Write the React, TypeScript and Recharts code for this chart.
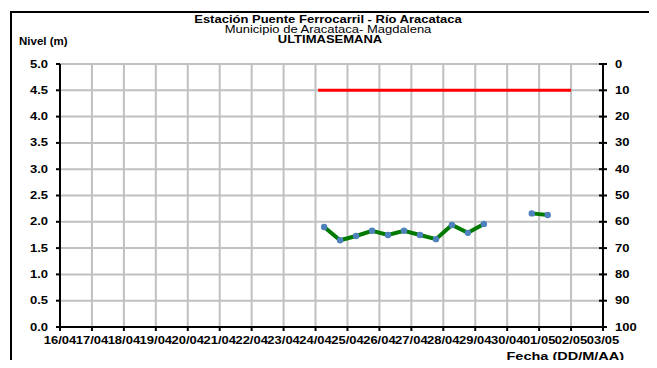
import React from 'react';
import { LineChart, Line, XAxis, YAxis, CartesianGrid } from 'recharts';

// eje X: un tick por día
const dayLabels = [
  '16/04', '17/04', '18/04', '19/04', '20/04', '21/04', '22/04', '23/04', '24/04',
  '25/04', '26/04', '27/04', '28/04', '29/04', '30/04', '01/05', '02/05', '03/05',
];
const dayTicks = [0, 1, 2, 3, 4, 5, 6, 7, 8, 9, 10, 11, 12, 13, 14, 15, 16, 17];

// nivel observado (m), en días desde 16/04
const nivelTimes = [8.27, 8.77, 9.27, 9.77, 10.27, 10.77, 11.27, 11.77, 12.27, 12.77, 13.27, 13.77, 14.27, 14.77, 15.27];
const nivelValues = [1.9, 1.65, 1.73, 1.83, 1.75, 1.83, 1.75, 1.67, 1.94, 1.79, 1.96, null, null, 2.16, 2.13];

// umbral de alerta
const alertTimes = [8.08, 16];
const alertValues = [4.5, 4.5];

// precipitación: sin registros en la semana
const lluviaTimes = [8.27];
const lluviaValues = [null];

const nivelTicks = [0, 0.5, 1, 1.5, 2, 2.5, 3, 3.5, 4, 4.5, 5];
const lluviaTicks = [0, 10, 20, 30, 40, 50, 60, 70, 80, 90, 100];

const nivelData = nivelTimes.map((t, i) => ({ t, nivel: nivelValues[i] }));
const alertData = alertTimes.map((t, i) => ({ t, alerta: alertValues[i] }));
const lluviaData = lluviaTimes.map((t, i) => ({ t, lluvia: lluviaValues[i] }));

const FONT = 'Arial, "Liberation Sans", sans-serif';
const SX = 1.3; // el texto original viene estirado a lo ancho

const txt = { fontFamily: FONT, fontSize: 10, fontWeight: 700, fill: '#000' };

const XTick = (props: any) => {
  const { x, y, payload } = props;
  return (
    <g transform={`translate(${x},${y})`}>
      <text transform={`scale(${SX},1)`} textAnchor="middle" dy="0.71em" style={txt}>
        {dayLabels[payload.value]}
      </text>
    </g>
  );
};

const LeftTick = (props: any) => {
  const { x, y, payload } = props;
  return (
    <g transform={`translate(${x},${y})`}>
      <text transform={`scale(${SX},1)`} textAnchor="end" dy="0.355em" style={txt}>
        {Number(payload.value).toFixed(1)}
      </text>
    </g>
  );
};

const RightTick = (props: any) => {
  const { x, y, payload } = props;
  return (
    <g transform={`translate(${x},${y})`}>
      <line x1={-16} x2={-12} y1={0} y2={0} stroke="#000" strokeWidth={2} />
      <text transform={`scale(${SX},1)`} textAnchor="start" dy="0.355em" style={txt}>
        {payload.value}
      </text>
    </g>
  );
};

const hText = (extra: React.CSSProperties): React.CSSProperties => ({
  position: 'absolute',
  whiteSpace: 'nowrap',
  fontSize: 10,
  lineHeight: '10px',
  color: '#000',
  ...extra,
});

export default function App() {
  return (
    <div style={{ position: 'relative', width: 657, height: 368, margin: -8, overflow: 'hidden', background: '#fff', fontFamily: FONT }}>
      {/* marco */}
      <div style={{ position: 'absolute', left: 10, top: 11, width: 700, height: 400, borderLeft: '2px solid #000', borderTop: '2px solid #000' }} />

      {/* títulos */}
      <div style={hText({ left: 328, top: 15, fontWeight: 700, transform: `translateX(-50%) scaleX(${SX})` })}>
        Estación Puente Ferrocarril - Río Aracataca
      </div>
      <div style={hText({ left: 328, top: 25, transform: `translateX(-50%) scaleX(${SX})` })}>
        Municipio de Aracataca- Magdalena
      </div>
      <div style={hText({ left: 330, top: 35, fontWeight: 700, transform: `translateX(-50%) scaleX(${SX})` })}>
        ULTIMASEMANA
      </div>
      <div style={hText({ left: 19, top: 37, fontWeight: 700, transformOrigin: 'left', transform: 'scaleX(1.15)' })}>
        Nivel (m)
      </div>
      <div style={hText({ right: 33, top: 352, fontWeight: 700, transformOrigin: 'right', transform: 'scaleX(1.45)' })}>
        Fecha (DD/M/AA)
      </div>

      <div style={{ position: 'absolute', left: 0, top: 0 }}>
        <LineChart width={657} height={368} margin={{ top: 64, right: 0, bottom: 21, left: 0 }}>
          <CartesianGrid
            yAxisId="left"
            stroke="#c0c0c0"
            strokeWidth={2}
            verticalValues={dayTicks}
            horizontalValues={nivelTicks}
          />
          <XAxis
            dataKey="t"
            type="number"
            domain={[0, 17]}
            ticks={dayTicks}
            interval={0}
            stroke="#000"
            strokeWidth={2}
            tickSize={4}
            tickMargin={6}
            tick={<XTick />}
            height={20}
            allowDuplicatedCategory={false}
          />
          <YAxis
            yAxisId="left"
            type="number"
            domain={[0, 5]}
            ticks={nivelTicks}
            interval={0}
            stroke="#000"
            strokeWidth={2}
            tickSize={4}
            tickMargin={8}
            tick={<LeftTick />}
            width={60}
          />
          <YAxis
            yAxisId="right"
            orientation="right"
            type="number"
            domain={[0, 100]}
            reversed
            allowDataOverflow
            ticks={lluviaTicks}
            interval={0}
            stroke="#000"
            strokeWidth={2}
            tickSize={4}
            tickMargin={8}
            tick={<RightTick />}
            width={54}
          />
          <Line
            yAxisId="right"
            data={lluviaData}
            dataKey="lluvia"
            stroke="#0000ff"
            dot={false}
            legendType="none"
            isAnimationActive={false}
          />
          <Line
            yAxisId="left"
            data={alertData}
            dataKey="alerta"
            stroke="#ff0000"
            strokeWidth={3}
            dot={false}
            isAnimationActive={false}
          />
          <Line
            yAxisId="left"
            data={nivelData}
            dataKey="nivel"
            stroke="#007a00"
            strokeWidth={4}
            dot={{ r: 3.2, fill: '#4f81bd', stroke: '#4f81bd', strokeWidth: 0 }}
            connectNulls={false}
            isAnimationActive={false}
          />
        </LineChart>
      </div>

      {/* título del eje secundario, cortado por el borde como en el original */}
      <svg width={657} height={368} style={{ position: 'absolute', left: 0, top: 0, pointerEvents: 'none' }}>
        <text transform="translate(658,53) rotate(-90)" textAnchor="end" style={{ ...txt, fontSize: 8.5 }}>
          Precipitación (mm)
        </text>
      </svg>
    </div>
  );
}
